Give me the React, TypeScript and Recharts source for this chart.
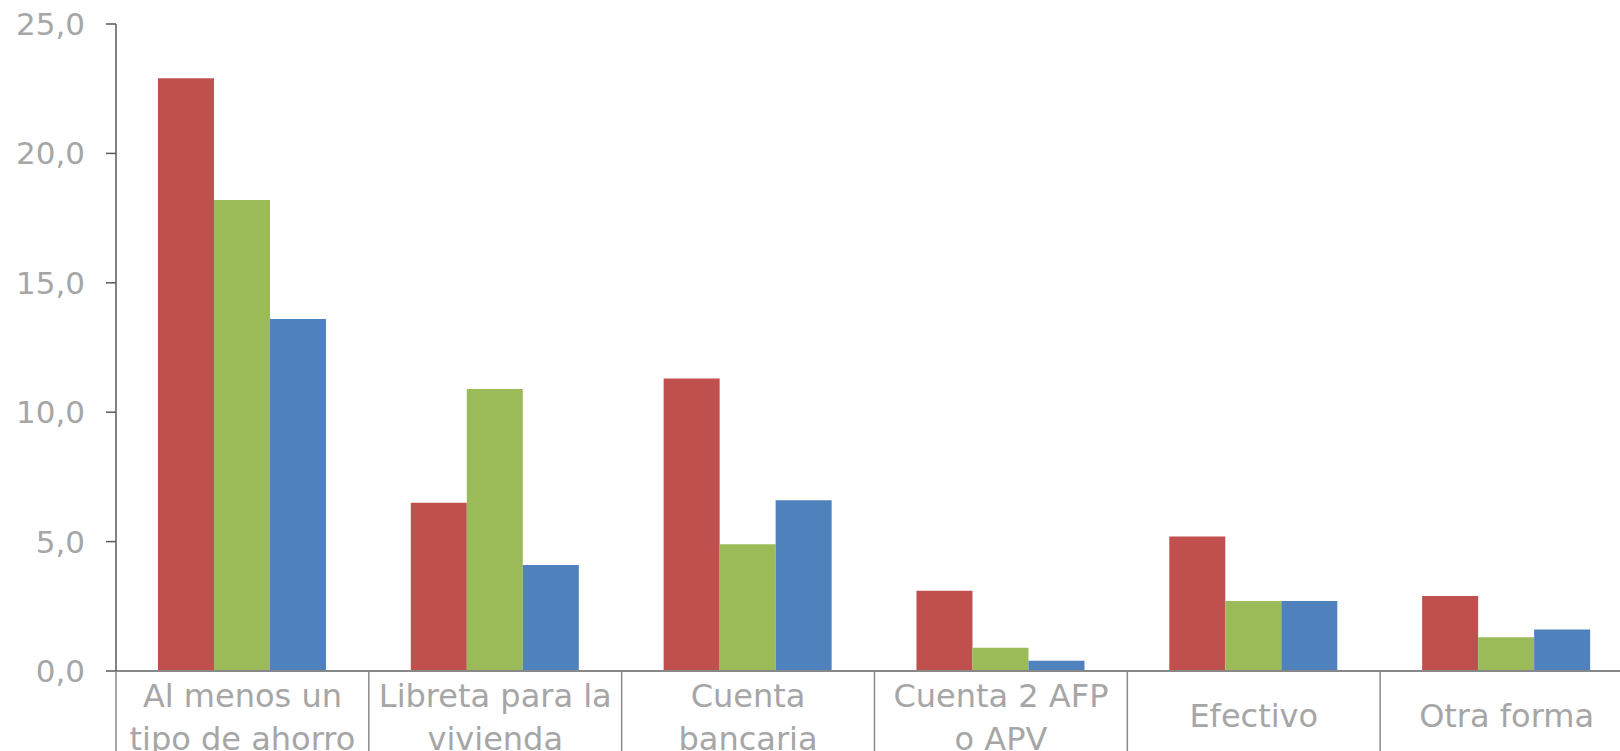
import React from "react";
import { Bar, BarChart, XAxis, YAxis } from "recharts";

const categories = [
  "Al menos un\ntipo de ahorro",
  "Libreta para la\nvivienda",
  "Cuenta\nbancaria",
  "Cuenta 2 AFP\no APV",
  "Efectivo",
  "Otra forma",
];
const serieRoja = [22.9, 6.5, 11.3, 3.1, 5.2, 2.9];
const serieVerde = [18.2, 10.9, 4.9, 0.9, 2.7, 1.3];
const serieAzul = [13.6, 4.1, 6.6, 0.4, 2.7, 1.6];
const yTicks = [0, 5, 10, 15, 20, 25];

const data = categories.map((label, i) => ({
  label,
  roja: serieRoja[i],
  verde: serieVerde[i],
  azul: serieAzul[i],
}));

const FONT = "'DejaVu Sans', Verdana, sans-serif";
const TEXT = "#a6a6a6";
const CHART_W = 1640;
const CHART_H = 751;
const Y_AXIS_W = 116;
const MARGIN_RIGHT = 7;
const PLOT_W = CHART_W - Y_AXIS_W - MARGIN_RIGHT;

function CategoryTick(props: any) {
  const { x, y, payload } = props;
  const half = payload?.offset || PLOT_W / categories.length / 2;
  const lines = String(payload.value).split("\n");
  const left = x - half;
  return (
    <g>
      <line x1={left} x2={left} y1={y} y2={CHART_H} stroke="#8a8a8a" strokeWidth={1.5} />
      {lines.length === 1 ? (
        <text x={x} y={y + 56} textAnchor="middle" fill={TEXT} fontSize={32} fontFamily={FONT}>
          {lines[0]}
        </text>
      ) : (
        lines.map((line, i) => (
          <text
            key={i}
            x={x}
            y={y + 36 + i * 43}
            textAnchor="middle"
            fill={TEXT}
            fontSize={32}
            fontFamily={FONT}
          >
            {line}
          </text>
        ))
      )}
    </g>
  );
}

export default function App() {
  return (
    <div
      style={{
        position: "fixed",
        left: 0,
        top: 0,
        width: 1620,
        height: 751,
        overflow: "hidden",
        background: "#ffffff",
      }}
    >
      <BarChart
        width={CHART_W}
        height={CHART_H}
        data={data}
        margin={{ top: 24, right: MARGIN_RIGHT, bottom: 0, left: 0 }}
        barCategoryGap="16.6%"
        barGap={0}
      >
        <XAxis
          dataKey="label"
          height={80}
          interval={0}
          tickSize={0}
          tickMargin={0}
          tickLine={false}
          axisLine={{ stroke: "#888888", strokeWidth: 2 }}
          tick={<CategoryTick />}
        />
        <YAxis
          width={Y_AXIS_W}
          domain={[0, 25]}
          ticks={yTicks}
          interval={0}
          tickSize={10}
          tickMargin={21}
          axisLine={{ stroke: "#5a5a5a", strokeWidth: 1.5 }}
          tickLine={{ stroke: "#5a5a5a", strokeWidth: 1.5 }}
          tick={{ fill: TEXT, fontSize: 31, fontFamily: FONT }}
          tickFormatter={(v: number) => v.toFixed(1).replace(".", ",")}
        />
        <Bar dataKey="roja" fill="#C0504D" isAnimationActive={false} />
        <Bar dataKey="verde" fill="#9BBB59" isAnimationActive={false} />
        <Bar dataKey="azul" fill="#4F81BD" isAnimationActive={false} />
      </BarChart>
    </div>
  );
}
